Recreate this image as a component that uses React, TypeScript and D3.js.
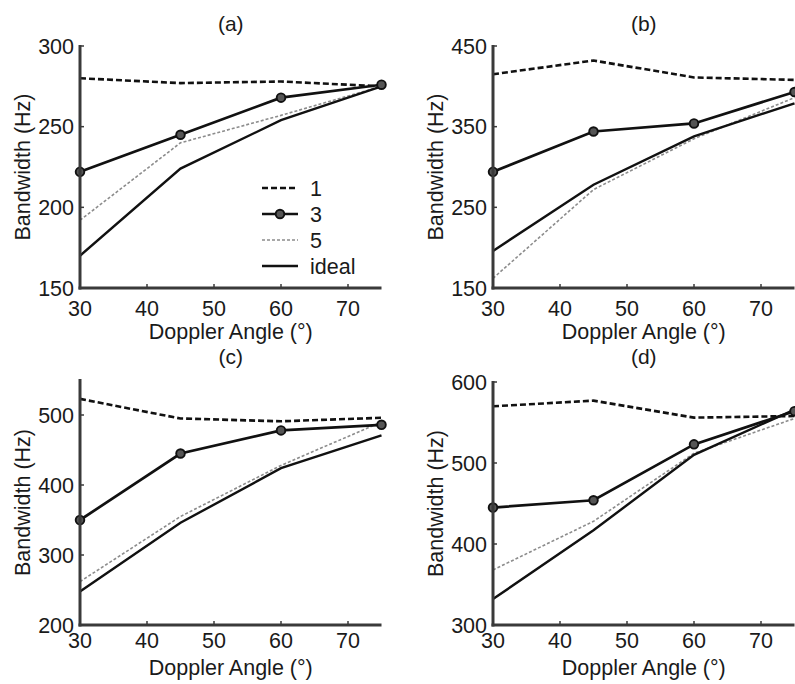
import React from "react";
import * as d3 from "d3";

// Doppler angles at which bandwidth was evaluated
const angles = [30, 45, 60, 75];
const xTicks = [30, 40, 50, 60, 70];

// Panel (a)
const aSeries1 = [280, 277, 278, 275];
const aSeries3 = [222, 245, 268, 276];
const aSeries5 = [192, 240, 257, 275];
const aIdeal = [170, 224, 254, 275];
const aYDomain = [150, 300];
const aYTicks = [150, 200, 250, 300];

// Panel (b)
const bSeries1 = [415, 432, 411, 408];
const bSeries3 = [294, 344, 354, 393];
const bSeries5 = [162, 272, 335, 386];
const bIdeal = [196, 278, 338, 379];
const bYDomain = [150, 450];
const bYTicks = [150, 250, 350, 450];

// Panel (c)
const cSeries1 = [523, 495, 491, 496];
const cSeries3 = [350, 445, 478, 486];
const cSeries5 = [262, 355, 428, 490];
const cIdeal = [248, 346, 424, 471];
const cYDomain = [200, 550];
const cYTicks = [200, 300, 400, 500];

// Panel (d)
const dSeries1 = [570, 577, 556, 558];
const dSeries3 = [445, 454, 523, 564];
const dSeries5 = [368, 428, 512, 555];
const dIdeal = [332, 417, 510, 566];
const dYDomain = [300, 600];
const dYTicks = [300, 400, 500, 600];

const legendLabels = ["1", "3", "5", "ideal"];

const FONT = "'Liberation Sans', Arial, Helvetica, sans-serif";
const FS = 21.5;
const TITLE_FS = 21;
const AXIS_COLOR = "#3a3a3a";
const TEXT_COLOR = "#1a1a1a";

type PanelProps = {
  title: string;
  left: number;
  top: number;
  bottom: number;
  yDomain: number[];
  yTicks: number[];
  s1: number[];
  s3: number[];
  s5: number[];
  ideal: number[];
  tickBase: number;
  labelBase: number;
  titleBase: number;
  legend?: boolean;
};

function Panel(p: PanelProps) {
  const x = d3.scaleLinear().domain([30, 75]).range([p.left, p.left + 301.5]);
  const y = d3.scaleLinear().domain(p.yDomain).range([p.bottom, p.top]);
  const line = d3
    .line<number>()
    .x((_, i) => x(angles[i]))
    .y((v) => y(v));
  const x0 = x(30);
  const x1 = x(75);
  const midX = (x0 + x1) / 2;
  const midY = (p.top + p.bottom) / 2;
  const legendY = [188, 214, 240, 266];
  return (
    <g>
      <text x={midX} y={p.titleBase} textAnchor="middle" fontSize={TITLE_FS} fontFamily={FONT} fill={TEXT_COLOR}>
        {p.title}
      </text>

      {/* data series */}
      <path d={line(p.s5) || ""} fill="none" stroke="#8c8c8c" strokeWidth={1.6} strokeDasharray="3,2" />
      <path d={line(p.ideal) || ""} fill="none" stroke="#111" strokeWidth={2.4} />
      <path d={line(p.s1) || ""} fill="none" stroke="#111" strokeWidth={2.6} strokeDasharray="6,3" />
      <path d={line(p.s3) || ""} fill="none" stroke="#111" strokeWidth={2.7} />
      {p.s3.map((v, i) => (
        <circle key={i} cx={x(angles[i])} cy={y(v)} r={4.3} fill="#555" stroke="#111" strokeWidth={1.9} />
      ))}

      {/* axes */}
      <line x1={x0} x2={x0} y1={p.top - 1} y2={p.bottom + 1.5} stroke={AXIS_COLOR} strokeWidth={3} />
      <line x1={x0 - 1.5} x2={x1} y1={p.bottom} y2={p.bottom} stroke={AXIS_COLOR} strokeWidth={3} />
      {xTicks.map((t) => (
        <g key={t}>
          <line x1={x(t)} x2={x(t)} y1={p.bottom} y2={p.bottom - 4} stroke={AXIS_COLOR} strokeWidth={1.5} />
          <text x={x(t)} y={p.tickBase} textAnchor="middle" fontSize={FS} fontFamily={FONT} fill={TEXT_COLOR}>
            {t}
          </text>
        </g>
      ))}
      {p.yTicks.map((t) => (
        <g key={t}>
          <line x1={x0} x2={x0 + 4} y1={y(t)} y2={y(t)} stroke={AXIS_COLOR} strokeWidth={1.5} />
          <text x={x0 - 6} y={y(t)} dy="0.36em" textAnchor="end" fontSize={FS} fontFamily={FONT} fill={TEXT_COLOR}>
            {t}
          </text>
        </g>
      ))}
      <text x={midX} y={p.labelBase} textAnchor="middle" fontSize={FS} fontFamily={FONT} fill={TEXT_COLOR}>
        Doppler Angle (°)
      </text>
      <text
        transform={`translate(${x0 - 50},${midY}) rotate(-90)`}
        textAnchor="middle"
        fontSize={FS}
        fontFamily={FONT}
        fill={TEXT_COLOR}
      >
        Bandwidth (Hz)
      </text>

      {p.legend && (
        <g>
          {legendLabels.map((lab, i) => {
            const ly = legendY[i];
            const style =
              i === 0
                ? { stroke: "#111", strokeWidth: 2.6, strokeDasharray: "6,3" }
                : i === 2
                ? { stroke: "#8c8c8c", strokeWidth: 1.6, strokeDasharray: "3,2" }
                : { stroke: "#111", strokeWidth: i === 1 ? 2.7 : 2.4 };
            return (
              <g key={lab}>
                <line x1={262} x2={298} y1={ly} y2={ly} {...style} />
                {i === 1 && <circle cx={280} cy={ly} r={4.3} fill="#555" stroke="#111" strokeWidth={1.9} />}
                <text x={310} y={ly} dy="0.36em" fontSize={FS} fontFamily={FONT} fill={TEXT_COLOR}>
                  {lab}
                </text>
              </g>
            );
          })}
        </g>
      )}
    </g>
  );
}

export default function App() {
  return (
    <svg
      width={795}
      height={684}
      viewBox="0 0 795 684"
      style={{ position: "absolute", left: 0, top: 0, display: "block", background: "#fff" }}
    >
      <rect width={795} height={684} fill="#fff" />
      <Panel
        title="(a)"
        left={80}
        top={46}
        bottom={288}
        yDomain={aYDomain}
        yTicks={aYTicks}
        s1={aSeries1}
        s3={aSeries3}
        s5={aSeries5}
        ideal={aIdeal}
        tickBase={316}
        labelBase={339}
        titleBase={31}
        legend
      />
      <Panel
        title="(b)"
        left={493}
        top={46}
        bottom={288}
        yDomain={bYDomain}
        yTicks={bYTicks}
        s1={bSeries1}
        s3={bSeries3}
        s5={bSeries5}
        ideal={bIdeal}
        tickBase={316}
        labelBase={339}
        titleBase={31}
      />
      <Panel
        title="(c)"
        left={80}
        top={380}
        bottom={625}
        yDomain={cYDomain}
        yTicks={cYTicks}
        s1={cSeries1}
        s3={cSeries3}
        s5={cSeries5}
        ideal={cIdeal}
        tickBase={648}
        labelBase={675}
        titleBase={363.5}
      />
      <Panel
        title="(d)"
        left={493}
        top={382}
        bottom={625}
        yDomain={dYDomain}
        yTicks={dYTicks}
        s1={dSeries1}
        s3={dSeries3}
        s5={dSeries5}
        ideal={dIdeal}
        tickBase={648}
        labelBase={675}
        titleBase={363.5}
      />
    </svg>
  );
}
